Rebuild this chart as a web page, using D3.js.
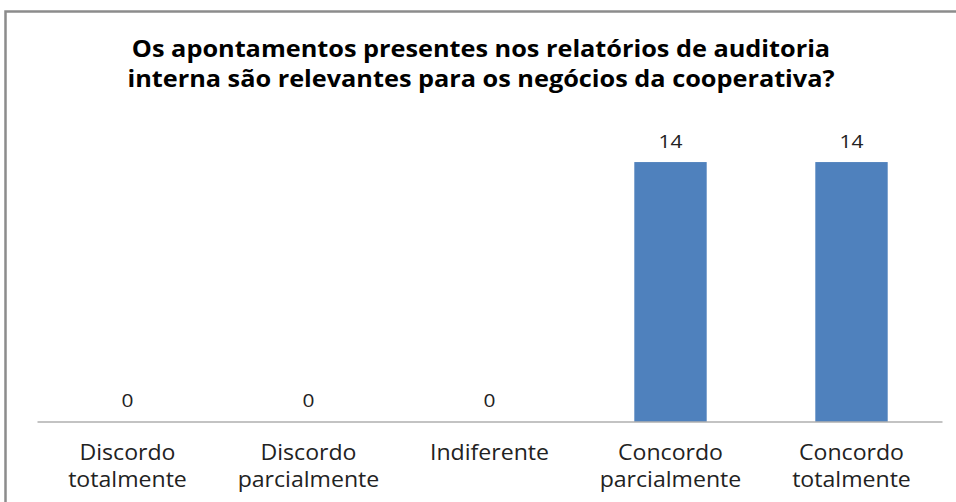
<!DOCTYPE html>
<html>
<head>
<meta charset="utf-8">
<script src="https://cdn.jsdelivr.net/npm/d3@7"></script>
<style>
  body { margin: 0; background: #fff; }
  text { font-family: "Open Sans", sans-serif; }
</style>
</head>
<body>
<div id="chart"></div>
<script>
// chart data
var categories = ["Discordo totalmente", "Discordo parcialmente", "Indiferente", "Concordo parcialmente", "Concordo totalmente"];
var values = [0, 0, 0, 14, 14];
var titleLines = ["Os apontamentos presentes nos relatórios de auditoria",
                  "interna são relevantes para os negócios da cooperativa?"];

var width = 956, height = 502;
var margin = {top: 125, right: 14, bottom: 80, left: 37};
var plotW = width - margin.left - margin.right;
var plotH = 421.5 - margin.top;
var stretch = 1.1; //the original text is a bit wide

var svg = d3.select("#chart").append("svg")
    .attr("width", width)
    .attr("height", height);

//outer chart border
svg.append("rect")
    .attr("x", 5.5)
    .attr("y", 11.5)
    .attr("width", 1000)
    .attr("height", 1000)
    .attr("fill", "none")
    .attr("stroke", "#8c8c8c")
    .attr("stroke-width", 2.5);

//title
svg.append("text")
    .attr("transform", "scale(" + stretch + ",1)")
    .attr("y", 57)
    .attr("text-anchor", "middle")
    .style("font-size", "23px")
    .style("font-weight", "bold")
    .style("fill", "#000")
    .selectAll("tspan")
    .data(titleLines)
    .enter().append("tspan")
    .attr("x", 481 / stretch)
    .attr("dy", (d, i) => i == 0 ? 0 : 30)
    .text(d => d);

var g = svg.append("g")
    .attr("transform", "translate(" + margin.left + "," + margin.top + ")");

var x = d3.scaleBand()
    .domain(categories)
    .range([0, plotW])
    .paddingInner(0.6)
    .paddingOuter(0.3);

var y = d3.scaleLinear()
    .domain([0, 16])
    .range([plotH, 0]);

//bars
g.selectAll("rect.bar")
    .data(values)
    .enter().append("rect")
    .attr("class", "bar")
    .attr("x", (d, i) => x(categories[i]))
    .attr("y", d => y(d))
    .attr("width", x.bandwidth())
    .attr("height", d => plotH - y(d))
    .attr("fill", "#4f81bd");

//value labels
g.selectAll("text.val")
    .data(values)
    .enter().append("text")
    .attr("class", "val")
    .attr("transform", "scale(" + stretch + ",1)")
    .attr("x", (d, i) => (x(categories[i]) + x.bandwidth() / 2) / stretch)
    .attr("y", d => y(d) - 14)
    .attr("text-anchor", "middle")
    .style("font-size", "19px")
    .style("fill", "#222")
    .text(d => d);

//x axis
var xAxis = g.append("g")
    .attr("transform", "translate(0," + plotH + ")")
    .call(d3.axisBottom(x).tickSize(0).tickFormat(""));
xAxis.select(".domain").attr("stroke", "#888").attr("stroke-width", 1.2);

//category labels, wrapped on spaces
g.selectAll("text.cat")
    .data(categories)
    .enter().append("text")
    .attr("class", "cat")
    .attr("transform", "scale(" + stretch + ",1)")
    .attr("text-anchor", "middle")
    .attr("y", plotH + 39)
    .style("font-size", "21px")
    .style("fill", "#222")
    .each(function(d) {
        var t = d3.select(this);
        var cx = (x(d) + x.bandwidth() / 2) / stretch;
        d.split(" ").forEach((w, i) => {
            t.append("tspan")
                .attr("x", cx)
                .attr("dy", i == 0 ? 0 : 27)
                .text(w);
        });
    });
</script>
</body>
</html>
